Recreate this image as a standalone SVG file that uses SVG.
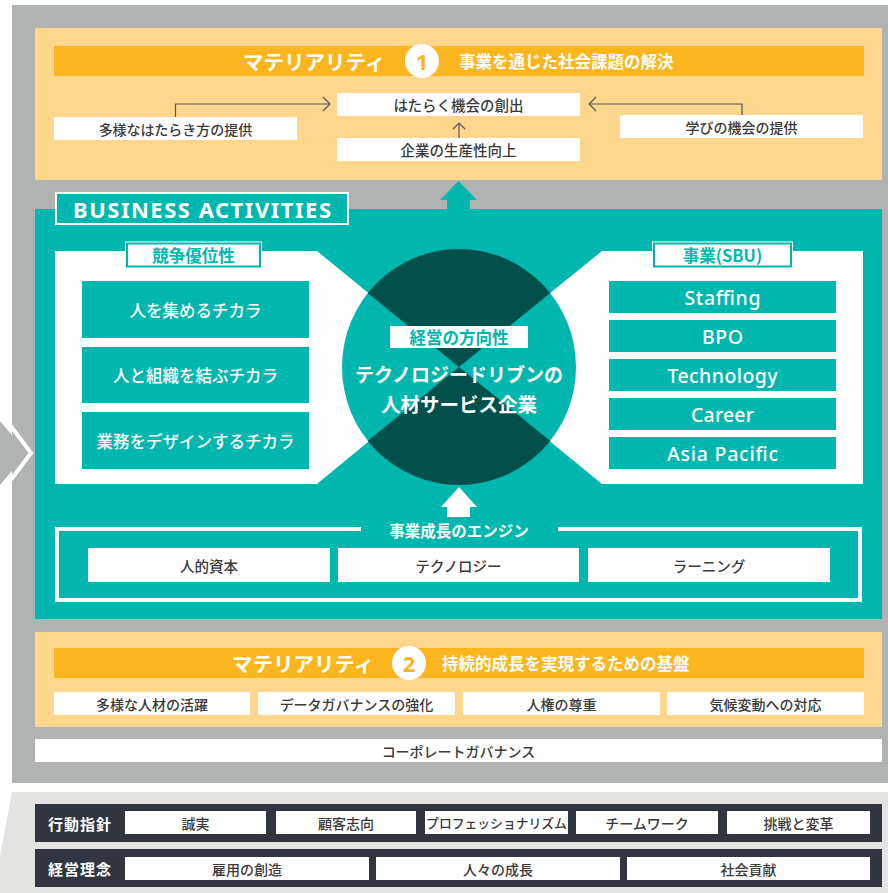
<svg xmlns="http://www.w3.org/2000/svg" width="888" height="893" viewBox="0 0 888 893">
<defs>
<style>
.jp{font-family:"Noto Sans CJK JP","Noto Sans",sans-serif;}
.en{font-family:"Noto Sans","Open Sans",sans-serif;}
.c{text-anchor:middle;dominant-baseline:central;}
.s{dominant-baseline:central;}
.b{font-weight:700;}
.m{font-weight:500;}
.w{fill:#ffffff;}
.t{fill:#00b7b0;}
.d{fill:#3a3a3a;}
.box{fill:#ffffff;}
.tealbox{fill:#00b7b0;}
.conn{fill:none;stroke:#555555;stroke-width:1.2;}
</style>
<clipPath id="circ"><ellipse cx="459" cy="367" rx="117" ry="118"/></clipPath>
</defs>

<g id="background">
<rect x="12" y="5" width="876" height="778" fill="#b1b3b3"/>
<polygon points="12,792 888,792 888,893 -7,893" fill="#e3e4e2"/>
<polyline points="10,425 31,453 10,481" fill="none" stroke="#ffffff" stroke-width="4"/>
<polygon points="0,421 27,453 0,485" fill="#b1b3b3"/>
</g>

<g id="materiality1">
<rect x="35" y="28" width="847" height="152" fill="#fed78c"/>
<rect x="54" y="46" width="810" height="30" fill="#fbb61f"/>
<text class="jp b w s" x="243" y="61" font-size="20.5">マテリアリティ</text>
<circle cx="422" cy="61" r="17" fill="#ffffff"/>
<text class="en b c" x="422" y="61" font-size="22" fill="#fbb61f">1</text>
<text class="jp b w s" x="459" y="61" font-size="16.5">事業を通じた社会課題の解決</text>
</g>

<g id="node-hataraku">
<rect x="337" y="93" width="243" height="23" class="box"/>
<text class="jp m d c" x="458.5" y="104.5" font-size="14.5">はたらく機会の創出</text>
</g>
<g id="node-seisansei">
<rect x="337" y="138" width="243" height="23" class="box"/>
<text class="jp m d c" x="458.5" y="149.5" font-size="14.5">企業の生産性向上</text>
</g>
<g id="node-tayou">
<rect x="54" y="117" width="243" height="23" class="box"/>
<text class="jp m d c" x="175.5" y="128.5" font-size="14">多様なはたらき方の提供</text>
</g>
<g id="node-manabi">
<rect x="620" y="115" width="243" height="23" class="box"/>
<text class="jp m d c" x="741.5" y="126.5" font-size="14">学びの機会の提供</text>
</g>

<g id="connectors">
<polyline class="conn" points="175.5,117 175.5,104 330,104"/>
<polyline class="conn" points="323,97 330,104 323,111"/>
<polyline class="conn" points="742,115 742,104 589,104"/>
<polyline class="conn" points="596,97 589,104 596,111"/>
<line class="conn" x1="459" y1="138" x2="459" y2="123"/>
<polyline class="conn" points="453,129 459,123 465,129"/>
<polygon points="458.5,181 477,200 470,200 470,210 447,210 447,200 440,200" fill="#00b7b0"/>
</g>

<g id="business-activities">
<rect x="35" y="209" width="847" height="410" fill="#00b7b0"/>
<rect x="56" y="193" width="292" height="31" fill="#00b7b0" stroke="#ffffff" stroke-width="2"/>
<text class="en b w s" x="73" y="209" font-size="22" textLength="258">BUSINESS ACTIVITIES</text>
<polygon points="55,251 317,251 459,367 317,484 55,484" fill="#ffffff"/>
<polygon points="602,251 863,251 863,484 602,484 459,367" fill="#ffffff"/>
</g>

<g id="node-kyousou">
<rect x="125" y="241.5" width="137" height="27" fill="#ffffff"/>
<rect x="127" y="243.5" width="133" height="23" fill="#ffffff" stroke="#00b7b0" stroke-width="2"/>
<text class="jp b t c" x="193.5" y="255" font-size="16.5">競争優位性</text>
</g>
<g id="node-hito-atsumeru">
<rect x="82" y="281" width="227" height="57" class="tealbox"/>
<text class="jp m w c" x="195.5" y="309.5" font-size="16.5">人を集めるチカラ</text>
</g>
<g id="node-hito-soshiki">
<rect x="82" y="347" width="227" height="56" class="tealbox"/>
<text class="jp m w c" x="195.5" y="375" font-size="16.5">人と組織を結ぶチカラ</text>
</g>
<g id="node-gyoumu">
<rect x="82" y="412" width="227" height="57" class="tealbox"/>
<text class="jp m w c" x="195.5" y="440.5" font-size="16.5">業務をデザインするチカラ</text>
</g>

<g id="node-sbu">
<rect x="652" y="241.5" width="141" height="27" fill="#ffffff"/>
<rect x="654" y="243.5" width="137" height="23" fill="#ffffff" stroke="#00b7b0" stroke-width="2"/>
<text class="jp b t c" x="722.5" y="255" font-size="16.5">事業(SBU)</text>
</g>
<g id="node-staffing">
<rect x="609" y="281" width="227" height="32" class="tealbox"/>
<text class="en m w c" x="722.5" y="297" font-size="19.5" textLength="76">Staffing</text>
</g>
<g id="node-bpo">
<rect x="609" y="320" width="227" height="32" class="tealbox"/>
<text class="en m w c" x="722.5" y="336" font-size="19.5" textLength="41">BPO</text>
</g>
<g id="node-technology">
<rect x="609" y="359" width="227" height="32" class="tealbox"/>
<text class="en m w c" x="722.5" y="375" font-size="19.5" textLength="110">Technology</text>
</g>
<g id="node-career">
<rect x="609" y="398" width="227" height="32" class="tealbox"/>
<text class="en m w c" x="722.5" y="414" font-size="19.5" textLength="63">Career</text>
</g>
<g id="node-asia">
<rect x="609" y="437" width="227" height="32" class="tealbox"/>
<text class="en m w c" x="722.5" y="453" font-size="19.5" textLength="111">Asia Pacific</text>
</g>

<g id="node-center">
<ellipse cx="459" cy="367" rx="117" ry="118" fill="#00b7b0"/>
<g clip-path="url(#circ)">
<polygon points="459,367 259,205 659,205" fill="#02504b"/>
<polygon points="459,367 259,529 659,529" fill="#02504b"/>
</g>
<rect x="390" y="326" width="138" height="22" fill="#ffffff"/>
<text class="jp b t c" x="459" y="337" font-size="16.5">経営の方向性</text>
<text class="jp b w c" x="459" y="373" font-size="19">テクノロジードリブンの</text>
<text class="jp b w c" x="459" y="403" font-size="19.5">人材サービス企業</text>
</g>

<g id="engine">
<polygon points="459,487 477,507 470,507 470,517 447,517 447,507 441,507" fill="#ffffff"/>
<path d="M361,529 H57 V600 H860 V529 H558" fill="none" stroke="#ffffff" stroke-width="4"/>
<text class="jp b w c" x="459" y="530" font-size="15.5">事業成長のエンジン</text>
</g>
<g id="node-jinteki">
<rect x="88" y="548" width="242" height="34" class="box"/>
<text class="jp m d c" x="209" y="565" font-size="14.5">人的資本</text>
</g>
<g id="node-technology-jp">
<rect x="338" y="548" width="241" height="34" class="box"/>
<text class="jp m d c" x="458.5" y="565" font-size="14.5">テクノロジー</text>
</g>
<g id="node-learning">
<rect x="588" y="548" width="242" height="34" class="box"/>
<text class="jp m d c" x="709" y="565" font-size="14.5">ラーニング</text>
</g>

<g id="materiality2">
<rect x="35" y="632" width="847" height="95" fill="#fed78c"/>
<rect x="54" y="648" width="810" height="30" fill="#fbb61f"/>
<text class="jp b w s" x="232" y="663" font-size="20.5">マテリアリティ</text>
<circle cx="409" cy="663" r="17" fill="#ffffff"/>
<text class="en b c" x="409" y="663" font-size="22" fill="#fbb61f">2</text>
<text class="jp b w s" x="442" y="663" font-size="16.5">持続的成長を実現するための基盤</text>
</g>
<g id="node-tayou-jinzai">
<rect x="54" y="692" width="196" height="23" class="box"/>
<text class="jp m d c" x="152" y="703.5" font-size="14">多様な人材の活躍</text>
</g>
<g id="node-data">
<rect x="258" y="692" width="197" height="23" class="box"/>
<text class="jp m d c" x="356.5" y="703.5" font-size="14">データガバナンスの強化</text>
</g>
<g id="node-jinken">
<rect x="463" y="692" width="197" height="23" class="box"/>
<text class="jp m d c" x="561.5" y="703.5" font-size="14">人権の尊重</text>
</g>
<g id="node-kikou">
<rect x="667" y="692" width="197" height="23" class="box"/>
<text class="jp m d c" x="765.5" y="703.5" font-size="14">気候変動への対応</text>
</g>

<g id="node-governance">
<rect x="35" y="739" width="847" height="23" class="box"/>
<text class="jp m d c" x="458.5" y="750.5" font-size="14">コーポレートガバナンス</text>
</g>

<g id="row-koudou">
<rect x="35" y="804" width="847" height="38" fill="#31353f"/>
<text class="jp b w c" x="80" y="823" font-size="15" letter-spacing="1">行動指針</text>
<rect x="125" y="811" width="141" height="23" class="box"/>
<text class="jp m d c" x="195.5" y="822.5" font-size="14">誠実</text>
<rect x="276" y="811" width="140" height="23" class="box"/>
<text class="jp m d c" x="346" y="822.5" font-size="14">顧客志向</text>
<rect x="425" y="811" width="143" height="23" class="box"/>
<text class="jp m d c" x="496.5" y="822.5" font-size="12.8">プロフェッショナリズム</text>
<rect x="576" y="811" width="142" height="23" class="box"/>
<text class="jp m d c" x="647" y="822.5" font-size="14">チームワーク</text>
<rect x="727" y="811" width="143" height="23" class="box"/>
<text class="jp m d c" x="798.5" y="822.5" font-size="14">挑戦と変革</text>
</g>

<g id="row-rinen">
<rect x="35" y="849" width="847" height="38" fill="#31353f"/>
<text class="jp b w c" x="80" y="868" font-size="15" letter-spacing="1">経営理念</text>
<rect x="125" y="857" width="244" height="23" class="box"/>
<text class="jp m d c" x="247" y="868.5" font-size="14">雇用の創造</text>
<rect x="376" y="857" width="244" height="23" class="box"/>
<text class="jp m d c" x="498" y="868.5" font-size="14">人々の成長</text>
<rect x="627" y="857" width="243" height="23" class="box"/>
<text class="jp m d c" x="748.5" y="868.5" font-size="14">社会貢献</text>
</g>
</svg>
